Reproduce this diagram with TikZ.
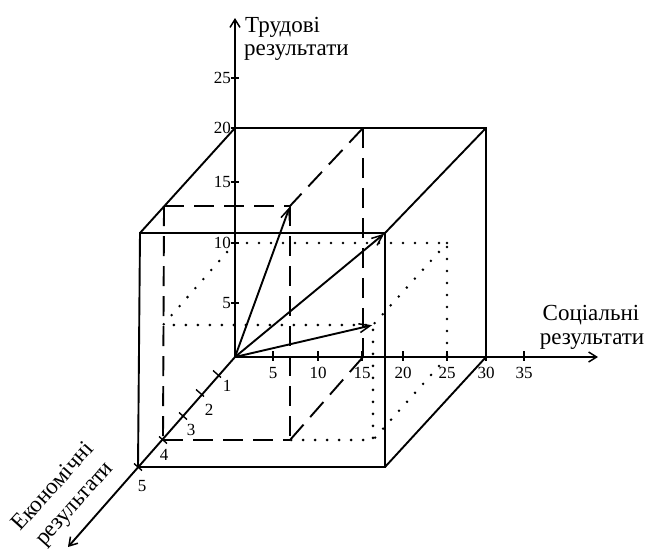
\documentclass[tikz,border=0pt]{standalone}
\usepackage{fontspec}
\setmainfont{Liberation Serif}
\usetikzlibrary{arrows.meta}
\begin{document}
\begin{tikzpicture}[x=1pt,y=-1pt,
  ln/.style={line width=1.9pt},
  dsh/.style={line width=1.9pt, dash pattern=on 20pt off 10pt},
  dts/.style={line width=2.8pt, line cap=round, dash pattern=on 0pt off 12pt},
  axis/.style={line width=1.9pt, -{Straight Barb[length=8pt,width=10pt,line width=1.5pt]}},
  vec/.style={line width=1.9pt, shorten >=1pt, -{Straight Barb[length=11pt,width=9pt,line width=1.5pt]}},
  tck/.style={line width=1.4pt},
  num/.style={font=\fontsize{17}{17}\selectfont, inner sep=0pt},
  lab/.style={font=\fontsize{23}{23}\selectfont, inner sep=0pt}]
\useasboundingbox[fill=white] (0,0) rectangle (646,550);
% axes
\coordinate (O) at (235,357);
\coordinate (Ytip) at (235,18);
\coordinate (Xtip) at (598,357);
\coordinate (Ztip) at (68,547);
% big box
\coordinate (By) at (235,128);
\coordinate (Bxy) at (486,128);
\coordinate (Bx) at (486,357);
\coordinate (Fo) at (138,467);
\coordinate (Fy) at (140,233);
\coordinate (Fxy) at (385,233);
\coordinate (Fx) at (385,467);
% dashed box
\coordinate (Dy) at (164,206);
\coordinate (Dxy) at (290,206);
\coordinate (Dx) at (290,440);
\coordinate (Do) at (163,440);
\coordinate (Cxy) at (363,128);
\coordinate (Cx) at (363,357);
% dotted box
\coordinate (Py) at (235,243);
\coordinate (Pxy) at (447,243);
\coordinate (Px) at (447,357);
\coordinate (Qy) at (163,325);
\coordinate (Qxy) at (373,325);
\coordinate (Qx) at (373,440);

% dotted box
\draw[dts] (Py) -- (Pxy) -- (Px);
\draw[dts] (Py) -- (Qy) -- (Qxy) -- (Qx) -- (Dx);
\draw[dts] (Pxy) -- (Qxy);
\draw[dts] (Px) -- (Qx);
% dashed box
\draw[dsh] (Dy) -- (Do);
\draw[dsh] (Do) -- (Dx);
\draw[dsh] (Dy) -- (Dxy);
\draw[dsh] (Dxy) -- (Dx);
\draw[dsh] (Cxy) -- (Dxy);
\draw[dsh] (Cxy) -- (Cx);
\draw[dsh] (Cx) -- (Dx);
% big box
\draw[ln] (By) -- (Bxy) -- (Bx);
\draw[ln] (By) -- (Fy);
\draw[ln] (Bxy) -- (Fxy);
\draw[ln] (Bx) -- (Fx);
\draw[ln] (Fo) -- (Fy) -- (Fxy) -- (Fx) -- (Fo);
% axes
\draw[axis] (O) -- (Ytip);
\draw[axis] (O) -- (Xtip);
\draw[axis] (O) -- (Ztip);
% vectors
\draw[vec] (O) -- (Dxy);
\draw[vec] (O) -- (Fxy);
\draw[vec] (O) -- (Qxy);

% y ticks
\foreach \yy/\t in {303/5,243/10,182/15,128/20,78/25}{
  \draw[tck] (231,\yy) -- (239,\yy);
  \node[num, anchor=east] (yl\t) at (231,\yy) {\t};
}
% x ticks
\foreach \xx/\t in {273/5,318/10,362/15,403/20,447/25,486/30,524/35}{
  \draw[tck] (\xx,351) -- (\xx,361);
  \node[num] (xl\t) at (\xx,373) {\t};
}
% z ticks
\foreach \zx/\zy/\t/\lx/\ly in {217/374/1/227/386, 200/393/2/209/410, 183/416/3/191/430, 163/440/4/164/455, 138/467/5/142/486}{
  \draw[tck] ({\zx-4},{\zy-3.5}) -- ({\zx+4},{\zy+3.5});
  \node[num] (zl\t) at (\lx,\ly) {\t};
}

% axis labels
\node[lab, anchor=west] (ylab1) at (245,27) {Трудові};
\node[lab, anchor=west] (ylab2) at (244,53) {результати};
\node[lab] (xlab1) at (591,315) {Соціальні};
\node[lab] (xlab2) at (592,342) {результати};
\node[lab, rotate=48] (zlab1) at (52,486) {Економічні};
\node[lab, rotate=48] (zlab2) at (77,506) {результати};
\end{tikzpicture}
\end{document}
